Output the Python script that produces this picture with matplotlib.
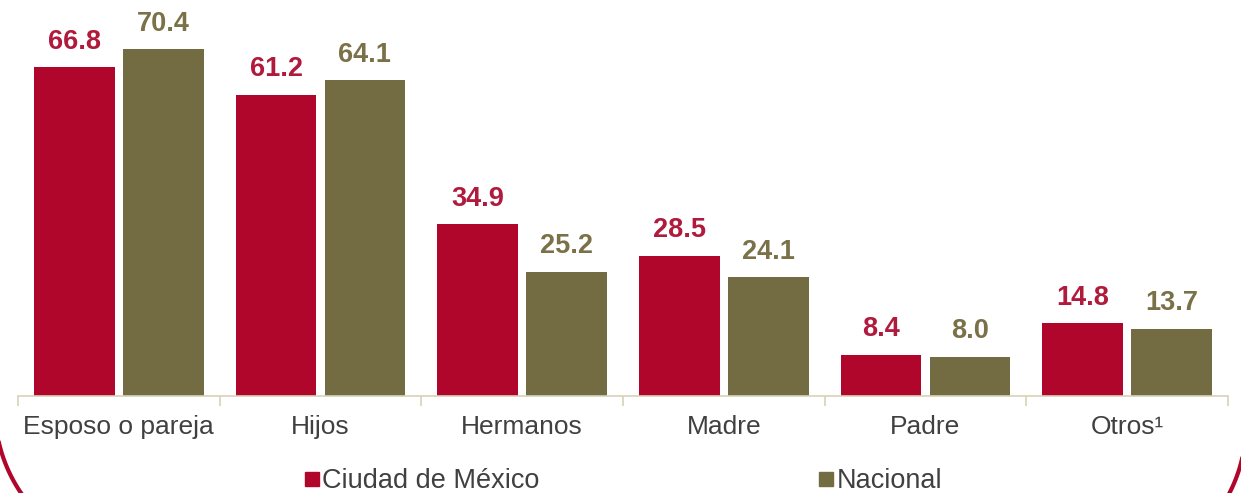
import matplotlib.pyplot as plt
import numpy as np
from matplotlib.lines import Line2D

categories = ['Esposo o pareja', 'Hijos', 'Hermanos', 'Madre', 'Padre', 'Otros¹']
cdmx = [66.8, 61.2, 34.9, 28.5, 8.4, 14.8]
nacional = [70.4, 64.1, 25.2, 24.1, 8.0, 13.7]
series_names = ['Ciudad de México', 'Nacional']

RED = '#B0062C'
OLIVE = '#736B42'
RED_TXT = '#B01A3C'
OLIVE_TXT = '#7A7148'
GRAY = '#404040'
AXIS = '#D8D2B6'

plt.rcParams['font.family'] = ['Liberation Sans', 'DejaVu Sans']

W, H = 1241, 493
fig = plt.figure(figsize=(W / 100, H / 100), dpi=100)
ax = fig.add_axes([18 / W, 97 / H, 1210 / W, 394 / H])

x = np.arange(len(categories))
bw = 0.4
off = 0.22
b1 = ax.bar(x - off, cdmx, bw, color=RED)
b2 = ax.bar(x + off, nacional, bw, color=OLIVE)

for bars, vals, col in ((b1, cdmx, RED_TXT), (b2, nacional, OLIVE_TXT)):
    for b, v in zip(bars, vals):
        ax.annotate(f'{v:.1f}', (b.get_x() + b.get_width() / 2, v),
                    xytext=(0, 9), textcoords='offset points',
                    ha='center', va='bottom', fontsize=19.5, fontweight='bold', color=col)

ax.set_xlim(-0.5, len(categories) - 0.5)
ax.set_ylim(0, 80)
ax.set_yticks([])
for s in ('left', 'right', 'top'):
    ax.spines[s].set_visible(False)
ax.spines['bottom'].set_color(AXIS)
ax.spines['bottom'].set_linewidth(1.2)

ax.set_xticks(x)
ax.set_xticklabels(categories, fontsize=19, color=GRAY)
ax.tick_params(axis='x', which='major', length=0, pad=14)
ax.set_xticks(np.arange(len(categories) + 1) - 0.5, minor=True)
ax.tick_params(axis='x', which='minor', length=7, color=AXIS, width=1.2)

handles = [Line2D([], [], marker='s', linestyle='none', markersize=9.4, color=RED),
           Line2D([], [], marker='s', linestyle='none', markersize=9.4, color=OLIVE)]
leg = fig.legend(handles, series_names, loc='center', bbox_to_anchor=(0.5024, 12 / H),
                 ncol=2, frameon=False, fontsize=19.5, handlelength=0.5, handletextpad=0.15,
                 columnspacing=10.3, borderaxespad=0, borderpad=0)
for t in leg.get_texts():
    t.set_color(GRAY)

# red rounded frame, only its lower corners show in the picture (pixel coords)
ov = fig.add_axes([0, 0, 1, 1], zorder=-1)
ov.set_xlim(0, W)
ov.set_ylim(H, 0)
ov.axis('off')
R = 150
t = np.linspace(0, np.pi / 2, 60)
ov.plot(145 - R * np.cos(t), 408.6 + R * np.sin(t), color=RED, lw=3)
ov.plot(1096 + R * np.cos(t), 424.6 + R * np.sin(t), color=RED, lw=3)

fig.savefig('out.png', dpi=100)
